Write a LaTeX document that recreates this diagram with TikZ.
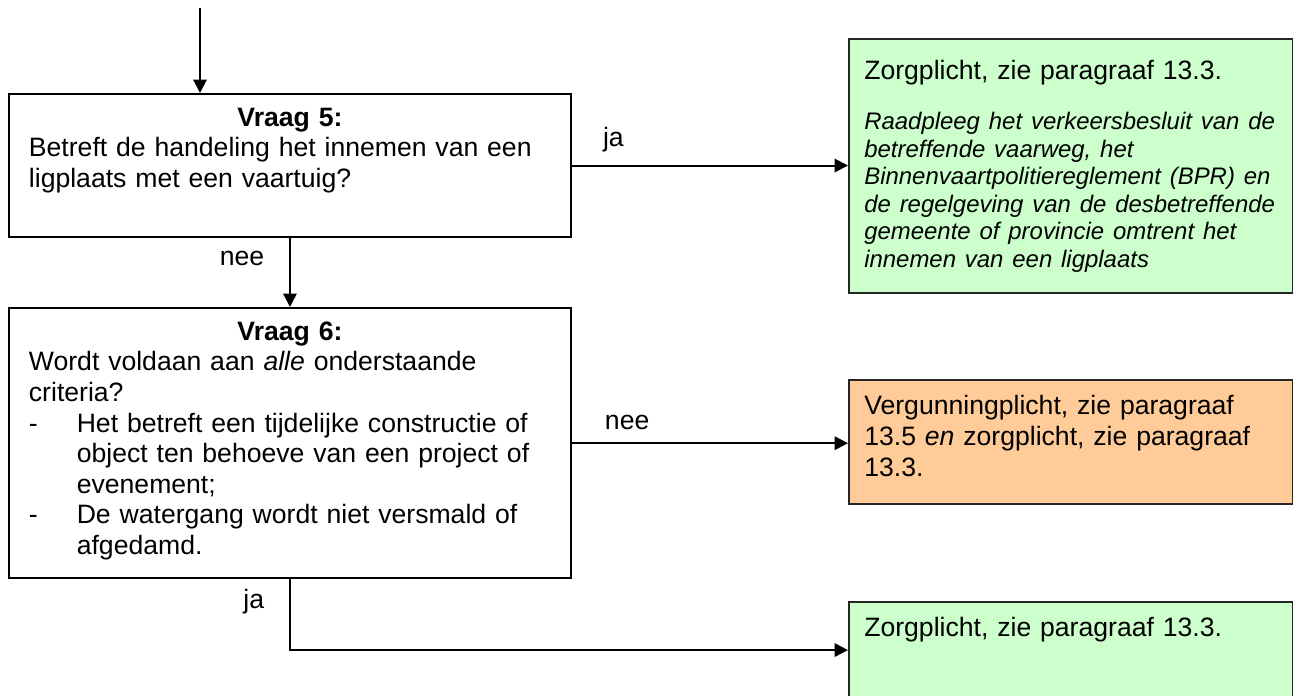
\documentclass[tikz,border=0pt]{standalone}
\usepackage{fontspec}
\setmainfont{Liberation Sans}
\usetikzlibrary{arrows.meta}

\definecolor{zorggroen}{HTML}{CCFFCC}
\definecolor{vergoranje}{HTML}{FFCC99}
\hyphenpenalty=10000
\exhyphenpenalty=10000

% one criterion with a dash and a hanging indent
\newcommand{\streepje}[1]{\par\noindent\hangindent=18pt\hangafter=1\makebox[18pt][l]{-}#1\par}

\begin{document}
\begin{tikzpicture}[x=0.376pt, y=-0.376pt, >={Triangle[length=5pt,width=5pt]},
  every node/.style={font=\fontsize{10}{11.5}\selectfont},
  vraag/.style={draw, line width=0.75pt, anchor=north west, align=left,
    text width=196.3pt, inner xsep=7.5pt, inner ysep=5.2pt},
  uitkomst/.style={draw=black!85, line width=0.75pt, anchor=north west, align=left,
    text width=155.5pt, inner xsep=5.75pt, inner ysep=5.6pt},
  pijl/.style={->, line width=0.75pt}]

\useasboundingbox (0,0) rectangle (1293,696);

% The two questions on the left
\node [vraag, text depth=36.5pt] (q5) at (8,93) {{\centering\textbf{Vraag 5:}\par}
  Betreft de handeling het innemen van een\newline ligplaats met een vaartuig?};
\node [vraag, text depth=84.3pt] (q6) at (8,307) {{\centering\textbf{Vraag 6:}\par}
  Wordt voldaan aan \textit{alle} onderstaande\newline criteria?
  \streepje{Het betreft een tijdelijke constructie of\newline object ten behoeve van een project of\newline evenement;}
  \streepje{De watergang wordt niet versmald of\newline afgedamd.}};

% The outcomes on the right
\node [uitkomst, fill=zorggroen, inner ysep=8pt] (zorgA) at (848,38) {Zorgplicht, zie paragraaf 13.3.\par
  \vspace{8.45pt}{\fontsize{9}{10.35}\selectfont\itshape Raadpleeg het verkeersbesluit van de\newline
  betreffende vaarweg, het\newline Binnenvaartpolitiereglement (BPR) en\newline de regelgeving van de
  desbetreffende\newline gemeente of provincie omtrent het\newline innemen van een ligplaats\par}};
\node [uitkomst, fill=vergoranje, text depth=28.2pt,
  font=\fontsize{10}{11.65}\selectfont] (vergunning) at (848,379)
  {Vergunningplicht, zie paragraaf\newline 13.5 \textit{en} zorgplicht, zie paragraaf\newline 13.3.};
\node [uitkomst, fill=zorggroen, text depth=17.7pt] (zorgB) at (848,601)
  {Zorgplicht, zie paragraaf 13.3.};

% Incoming arrow
\coordinate (begin) at (200,8);
\draw [pijl] (begin) -- (begin |- q5.north);

% Arrows with their answers
\draw [pijl] (q5) -- node [left=6pt, pos=0.29] {nee} (q6);
\foreach \van/\naar/\antw/\p in {q5/zorgA/ja/0.15, q6/vergunning/nee/0.2} {
  \draw [pijl] (\van) -- node [above=1.5pt, pos=\p] {\antw} (\van -| \naar.west);
}
\draw [pijl] (q6) |- node [left=6pt, pos=0.155] {ja} (zorgB);

\end{tikzpicture}
\end{document}
